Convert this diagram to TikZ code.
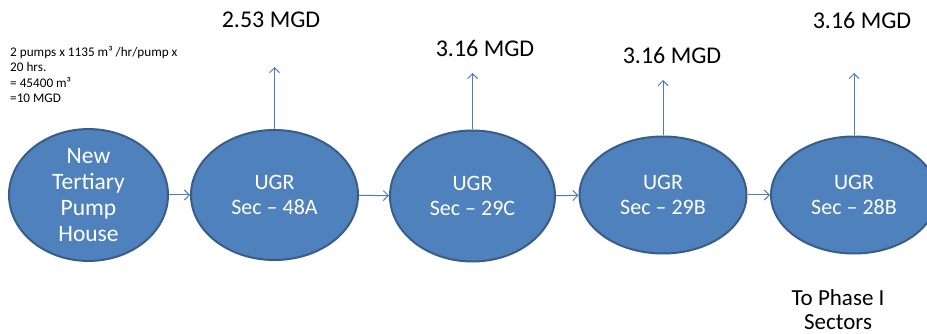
\documentclass[tikz,border=0pt]{standalone}
\usepackage{fontspec}
\setmainfont{Carlito}
\usetikzlibrary{shapes.geometric,arrows.meta}
\definecolor{tankfill}{HTML}{4F81BD}
\definecolor{tankline}{HTML}{385D8A}
\definecolor{flowline}{HTML}{4A7EBB}
\begin{document}
\begin{tikzpicture}[x = 1pt, y = -1pt,
    tank/.style = {ellipse, draw = tankline, fill = tankfill, line width = 2pt,
      text = white, align = center, inner sep = 0pt,
      font = \fontsize{22}{25}\selectfont},
    flow/.style = {draw = flowline, line width = 1pt,
      -{Straight Barb[length = 5pt, width = 10pt]}},
    mgd/.style = {font = \fontsize{24}{27}\selectfont}]
  \useasboundingbox (0, 0) rectangle (927, 334);

  \node[tank, minimum width = 159pt, minimum height = 126pt,
    font = \fontsize{23.5}{26}\selectfont] (pump) at (88.5, 195) {New\\Tertiary\\Pump\\House};
  \node[tank, minimum width = 167pt, minimum height = 130pt] (ugrA) at (274.5, 195) {UGR\\Sec -- 48A};
  \node[tank, minimum width = 165pt, minimum height = 131pt] (ugrC) at (472.5, 196) {UGR\\Sec -- 29C};
  \node[tank, minimum width = 167pt, minimum height = 117pt] (ugrB) at (663, 195) {UGR\\Sec -- 29B};
  \node[tank, minimum width = 166pt, minimum height = 117pt] (ugrD) at (854, 195) {UGR\\Sec -- 28B};

  \draw[flow] (pump) -- (ugrA);
  \draw[flow] (ugrA) -- (ugrC);
  \draw[flow] (ugrC) -- (ugrB);
  \draw[flow] (ugrB) -- (ugrD);

  \coordinate (outA) at (274.5, 67);
  \coordinate (outC) at (472.5, 73);
  \coordinate (outB) at (663, 80);
  \coordinate (outD) at (854, 73);
  \draw[flow] (ugrA.north) -- (outA);
  \draw[flow] (ugrC.north) -- (outC);
  \draw[flow] (ugrB.north) -- (outB);
  \draw[flow] (ugrD.north) -- (outD);

  \node[mgd] (mgdA) at (271, 20) {2.53 MGD};
  \node[mgd] (mgdC) at (485, 48) {3.16 MGD};
  \node[mgd] (mgdB) at (672, 55) {3.16 MGD};
  \node[mgd] (mgdD) at (862, 20) {3.16 MGD};

  \node[anchor = north west, inner sep = 0pt, align = left,
    font = \fontsize{13.2}{15.5}\selectfont] (calc) at (10, 46)
    {2 pumps x 1135 m³ /hr/pump x\\20 hrs.\\= 45400 m³\\=10 MGD};

  \node[align = center, font = \fontsize{23}{24}\selectfont] (phase) at (838, 310)
    {To Phase I\\Sectors};
\end{tikzpicture}
\end{document}
